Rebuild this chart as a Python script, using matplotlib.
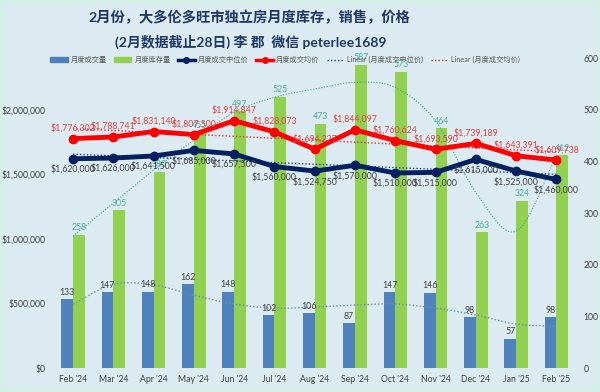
import matplotlib
matplotlib.use("Agg")
import matplotlib.pyplot as plt
import numpy as np
from matplotlib.patches import FancyBboxPatch, Patch
from matplotlib.lines import Line2D

plt.rcParams['font.family'] = ['Lato', 'Noto Sans CJK SC', 'DejaVu Sans']

months = ["Feb '24", "Mar '24", "Apr '24", "May '24", "Jun '24", "Jul '24", "Aug '24",
          "Sep '24", "Oct '24", "Nov '24", "Dec '24", "Jan '25", "Feb '25"]
sales = [133, 147, 148, 162, 148, 102, 106, 87, 147, 146, 98, 57, 98]
inventory = [258, 305, 380, 455, 497, 525, 473, 587, 573, 464, 263, 324, 412]
median_price = [1620000, 1626000, 1641500, 1685000, 1657500, 1560000, 1524750,
                1570000, 1510000, 1515000, 1615000, 1525000, 1460000]
avg_price = [1776302, 1788741, 1831140, 1807500, 1914847, 1828073, 1694227,
             1844097, 1760624, 1693590, 1739189, 1643391, 1609738]
# trend curves (values at each month)
sales_trend = [124, 162, 161, 141, 124, 116, 118, 122, 124, 116, 103, 85, 81]
inventory_trend = [255, 319, 383, 441, 495, 524, 540, 553, 543, 478, 340, 265, 410]

title1 = "2月份，大多伦多旺市独立房月度库存，销售，价格"
title2 = "(2月数据截止28日) 李 郡  微信 peterlee1689"
legend_labels = ['月度成交量', '月度库存量', '月度成交中位价', '月度成交均价',
                 'Linear (月度成交中位价)', 'Linear (月度成交均价)']


def smooth(xv, yv, n=20):
    """Catmull-Rom curve through the given points (for drawing only)."""
    xv = np.asarray(xv, float)
    yv = np.asarray(yv, float)
    P = np.vstack([xv, yv]).T
    P = np.vstack([2 * P[0] - P[1], P, 2 * P[-1] - P[-2]])
    out = []
    t = np.linspace(0, 1, n, endpoint=False)[:, None]
    for i in range(1, len(P) - 2):
        p0, p1, p2, p3 = P[i - 1], P[i], P[i + 1], P[i + 2]
        c = 0.5 * ((2 * p1) + (-p0 + p2) * t + (2 * p0 - 5 * p1 + 4 * p2 - p3) * t ** 2
                   + (-p0 + 3 * p1 - 3 * p2 + p3) * t ** 3)
        out.append(c)
    out.append(P[-2][None, :])
    out = np.vstack(out)
    return out[:, 0], out[:, 1]


fig = plt.figure(figsize=(6, 3.92), dpi=100)
fig.patch.set_facecolor('#d4efe6')
bg = FancyBboxPatch((0.008, 0.01), 0.984, 0.98, boxstyle="square,pad=0",
                    transform=fig.transFigure, facecolor='#dcebf2', edgecolor='none', zorder=-10)
fig.patches.append(bg)

ax2 = fig.add_axes([0.088, 0.061, 0.873, 0.791])
ax = ax2.twinx()
ax2.yaxis.tick_right()
ax.yaxis.tick_left()
for a in (ax, ax2):
    a.set_facecolor('none')
    for s in a.spines.values():
        s.set_visible(False)

x = np.arange(len(months))
w = 0.29
ax2.bar(x - w / 2, sales, width=w, color='#4f81bd', zorder=2)
ax2.bar(x + w / 2, inventory, width=w, color='#92d050', zorder=2)
ax2.set_ylim(0, 600)
ax2.set_yticks(range(0, 601, 100))
ax2.set_xlim(-0.5, len(months) - 0.5)
ax2.set_xticks(x)
ax2.set_xticklabels(months)
ax2.tick_params(axis='both', length=0, labelsize=6.2, labelcolor='#404040')
ax2.tick_params(axis='y', pad=5)
ax2.tick_params(axis='x', pad=5)

for i in range(len(months)):
    ax2.text(x[i] - w / 2, sales[i] + 5, str(sales[i]), ha='center', va='bottom',
             fontsize=6.3, color='#404040', zorder=5)
    ax2.text(x[i] + w / 2, inventory[i] + 5, str(inventory[i]), ha='center', va='bottom',
             fontsize=6.3, color='#4bac9c', zorder=5)

sx, sy = smooth(x, sales_trend)
ax2.plot(sx, sy, ls=(0, (1, 1.5)), color='#6b8fb0', lw=1.0, zorder=3)
ix, iy = smooth(x, inventory_trend)
ax2.plot(ix, iy, ls=(0, (1, 1.5)), color='#3aa58a', lw=0.8, zorder=3)

ax.set_ylim(0, 2400000)
ax.set_yticks(range(0, 2000001, 500000))
ax.set_yticklabels(['$0'] + ['${:,}'.format(v) for v in range(500000, 2000001, 500000)])
ax.tick_params(axis='y', length=0, labelsize=6.2, labelcolor='#404040', pad=5)

ax.plot(x, median_price, color='#002060', lw=3.5, marker='o', ms=6, zorder=4)
ax.plot(x, avg_price, color='#ff0000', lw=3.5, marker='o', ms=6, zorder=4)
pm = np.polyfit(x, median_price, 1)
ax.plot(x, np.polyval(pm, x), ls=(0, (1, 1.5)), color='#1f3fa0', lw=1.0, zorder=3)
pa = np.polyfit(x, avg_price, 1)
ax.plot(x, np.polyval(pa, x), ls=(0, (1, 1.5)), color='#e03030', lw=1.0, zorder=3)

for i in range(len(months)):
    ax.text(x[i], median_price[i] - 45000, '${:,}'.format(median_price[i]), ha='center', va='top',
            fontsize=6.3, color='#404040', zorder=6)
    ax.text(x[i], avg_price[i] + 45000, '${:,}'.format(avg_price[i]), ha='center', va='bottom',
            fontsize=6.3, color='#e04040', zorder=6)

fig.text(0.416, 0.958, title1, ha='center', va='center', fontsize=10.3, fontweight='bold', color='#1f3864')
fig.text(0.418, 0.892, title2, ha='center', va='center', fontsize=10, fontweight='bold', color='#1f3864')

handles = [Patch(color='#4f81bd'), Patch(color='#92d050'),
           Line2D([], [], color='#002060', lw=2.5, marker='o', ms=4),
           Line2D([], [], color='#ff0000', lw=2.5, marker='o', ms=4),
           Line2D([], [], color='#1f3fa0', lw=1, ls=(0, (1, 1.5))),
           Line2D([], [], color='#e03030', lw=1, ls=(0, (1, 1.5)))]
fig.legend(handles, legend_labels, loc='center', bbox_to_anchor=(0.475, 0.848), ncol=6, frameon=False,
           fontsize=5.2, labelcolor='#595959', handlelength=2.4, columnspacing=1.0, handletextpad=0.4)

fig.savefig('out.png', dpi=100, facecolor=fig.get_facecolor())
